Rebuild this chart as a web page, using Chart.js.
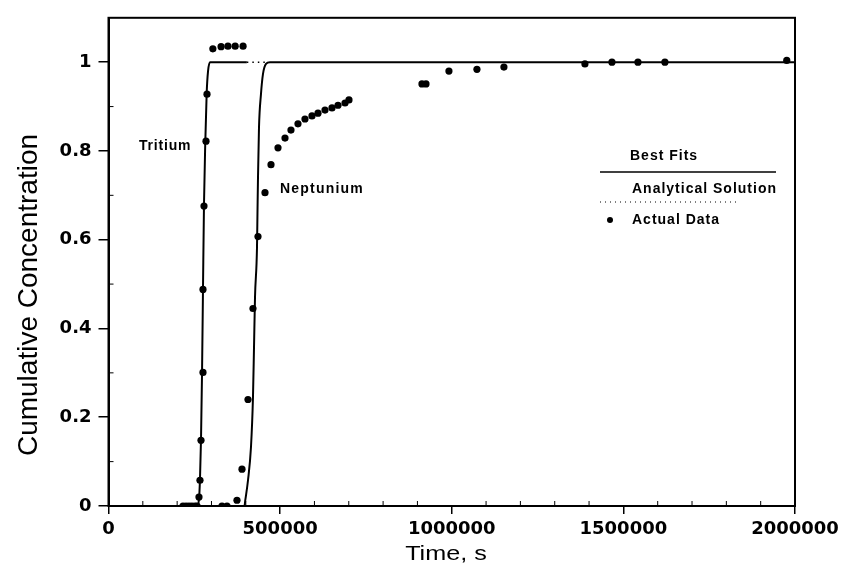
<!DOCTYPE html>
<html>
<head>
<meta charset="utf-8">
<script src="https://cdn.jsdelivr.net/npm/chart.js@4"></script>
<style>
  html, body { margin: 0; padding: 0; background: #fff; }
  canvas { display: block; }
</style>
</head>
<body>
<canvas id="chart" width="846" height="566"></canvas>
<script>
// fitted curves
const tritiumFitX = [0, 258000, 263600, 266500, 269500, 272500, 275300, 278200, 282000, 286000, 290000, 296000, 403000];
const tritiumFitY = [0, 0, 0.015, 0.06, 0.15, 0.3, 0.49, 0.68, 0.82, 0.93, 0.98, 1, 1];
const tritiumAnalyticX = [403000, 456000];
const tritiumAnalyticY = [1, 1];
const neptuniumFitX = [0, 396000, 398500, 406400, 415100, 420900, 423900, 426800, 432600, 434100, 435500, 438400, 444200, 450000, 458800, 470400, 2000000];
const neptuniumFitY = [0, 0, 0.013, 0.058, 0.133, 0.245, 0.357, 0.47, 0.582, 0.665, 0.739, 0.852, 0.928, 0.973, 0.996, 1, 1];

// measured points
const tritiumDataX = [217000, 226000, 234500, 243000, 252000, 258000, 263600, 266500, 269500, 275300, 275300, 278200, 284000, 287000, 304000, 328000, 348000, 369000, 392000];
const tritiumDataY = [0, 0, 0, 0, 0, 0, 0.02, 0.058, 0.148, 0.301, 0.488, 0.676, 0.822, 0.928, 1.03, 1.035, 1.036, 1.036, 1.036];
const neptuniumDataX = [330600, 345200, 374300, 388900, 406400, 420900, 435500, 455900, 473400, 493800, 514200, 531600, 552000, 572400, 592800, 610300, 630700, 651100, 668600, 689000, 700600, 913200, 924900, 991800, 1073400, 1152000, 1388000, 1466700, 1542400, 1621000, 1976000];
const neptuniumDataY = [0, 0, 0.013, 0.083, 0.24, 0.445, 0.607, 0.706, 0.769, 0.807, 0.829, 0.847, 0.861, 0.872, 0.879, 0.885, 0.892, 0.897, 0.903, 0.908, 0.915, 0.951, 0.951, 0.98, 0.984, 0.989, 0.996, 1, 1, 1, 1.004];

// axis ticks
const xTicks = [0, 500000, 1000000, 1500000, 2000000];
const yTicks = [0, 0.2, 0.4, 0.6, 0.8, 1];
const xMinorTicks = [100000, 200000, 300000, 400000, 600000, 700000, 800000, 900000, 1100000, 1200000, 1300000, 1400000, 1600000, 1700000, 1800000, 1900000];
const yMinorTicks = [0.1, 0.3, 0.5, 0.7, 0.9];

const pts = (xs, ys) => xs.map((x, i) => ({ x: x, y: ys[i] }));

const lineSet = (data, dash, width) => ({
    data: data,
    showLine: true,
    borderColor: '#000',
    borderWidth: width,
    borderDash: dash,
    pointRadius: 0,
    cubicInterpolationMode: 'monotone',
    fill: false
});

const dotSet = (data) => ({
    data: data,
    showLine: false,
    pointRadius: 3.6,
    pointBackgroundColor: '#000',
    pointBorderColor: '#000',
    pointBorderWidth: 0
});

// frame, minor ticks, titles, labels and legend
const decorations = {
    id: 'decorations',
    afterDraw(chart) {
        const ctx = chart.ctx;
        const a = chart.chartArea;
        const xs = chart.scales.x, ys = chart.scales.y;
        ctx.save();
        ctx.strokeStyle = '#000';
        ctx.lineWidth = 2;
        ctx.strokeRect(a.left, a.top, a.right - a.left, a.bottom - a.top);

        ctx.lineWidth = 1;
        ctx.beginPath();
        xMinorTicks.forEach(v => {
            const px = xs.getPixelForValue(v);
            ctx.moveTo(px, a.bottom);
            ctx.lineTo(px, a.bottom - 5);
        });
        yMinorTicks.forEach(v => {
            const py = ys.getPixelForValue(v);
            ctx.moveTo(a.left, py);
            ctx.lineTo(a.left + 5, py);
        });
        ctx.stroke();

        ctx.fillStyle = '#000';
        // axis titles
        ctx.save();
        ctx.translate(29, 295);
        ctx.rotate(-Math.PI / 2);
        ctx.font = '28px "Liberation Sans", Arial, sans-serif';
        ctx.textAlign = 'center';
        ctx.textBaseline = 'middle';
        ctx.fillText('Cumulative Concentration', 0, 0);
        ctx.restore();

        ctx.save();
        ctx.translate(446, 560);
        ctx.scale(1.2, 1);
        ctx.font = '21px "Liberation Sans", Arial, sans-serif';
        ctx.textAlign = 'center';
        ctx.textBaseline = 'alphabetic';
        ctx.fillText('Time, s', 0, 0);
        ctx.restore();

        // curve labels
        ctx.font = 'bold 14px "Liberation Sans", Arial, sans-serif';
        ctx.textBaseline = 'middle';
        ctx.textAlign = 'left';
        ctx.letterSpacing = '0.8px';
        ctx.fillText('Tritium', 139, 146);
        ctx.letterSpacing = '1.2px';
        ctx.fillText('Neptunium', 280, 189);

        // legend
        ctx.letterSpacing = '1px';
        ctx.fillText('Best Fits', 630, 156);
        ctx.fillText('Analytical Solution', 632, 189);
        ctx.fillText('Actual Data', 632, 220);
        ctx.letterSpacing = '0px';
        ctx.lineWidth = 1.5;
        ctx.beginPath();
        ctx.moveTo(600, 172);
        ctx.lineTo(776, 172);
        ctx.stroke();
        ctx.setLineDash([1, 4]);
        ctx.lineWidth = 1;
        ctx.beginPath();
        ctx.moveTo(600, 202);
        ctx.lineTo(740, 202);
        ctx.stroke();
        ctx.setLineDash([]);
        ctx.beginPath();
        ctx.arc(610, 220, 3, 0, Math.PI * 2);
        ctx.fill();
        ctx.restore();
    }
};

new Chart(document.getElementById('chart'), {
    type: 'scatter',
    data: {
        datasets: [
            lineSet(pts(tritiumFitX, tritiumFitY), [], 2),
            lineSet(pts(tritiumAnalyticX, tritiumAnalyticY), [1.5, 4], 1.5),
            lineSet(pts(neptuniumFitX, neptuniumFitY), [], 2),
            dotSet(pts(tritiumDataX, tritiumDataY)),
            dotSet(pts(neptuniumDataX, neptuniumDataY))
        ]
    },
    options: {
        responsive: false,
        animation: false,
        layout: { padding: { top: 17, right: 51, left: 0, bottom: 0 } },
        plugins: { legend: { display: false }, tooltip: { enabled: false } },
        scales: {
            x: {
                type: 'linear',
                min: 0,
                max: 2000000,
                afterFit: (s) => { s.height = 60; },
                afterBuildTicks: (s) => { s.ticks = xTicks.map(v => ({ value: v })); },
                ticks: {
                    color: '#000',
                    padding: 5,
                    maxRotation: 0,
                    font: { family: '"DejaVu Sans", sans-serif', size: 18, weight: 'bold' },
                    callback: (v) => String(v)
                },
                grid: { drawOnChartArea: false, drawTicks: true, tickLength: 8, color: '#000', lineWidth: 1.5 },
                border: { display: true, color: '#000', width: 2 }
            },
            y: {
                min: 0,
                max: 1.1,
                afterFit: (s) => { s.width = 108.5; },
                afterBuildTicks: (s) => { s.ticks = yTicks.map(v => ({ value: v })); },
                ticks: {
                    color: '#000',
                    padding: 7,
                    font: { family: '"DejaVu Sans", sans-serif', size: 18, weight: 'bold' },
                    callback: (v) => String(v)
                },
                grid: { drawOnChartArea: false, drawTicks: true, tickLength: 10, color: '#000', lineWidth: 1.5 },
                border: { display: true, color: '#000', width: 2 }
            }
        }
    },
    plugins: [decorations]
});
</script>
</body>
</html>
